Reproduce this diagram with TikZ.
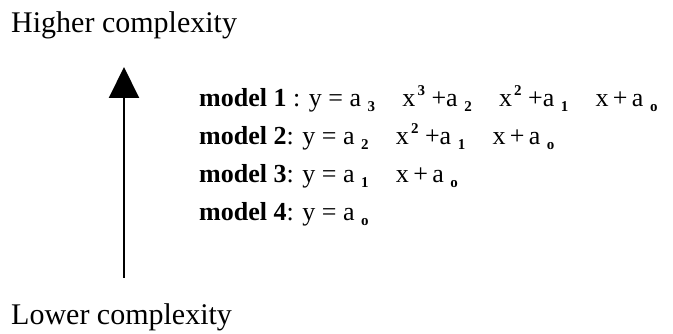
\documentclass[tikz,border=0pt]{standalone}
\usepackage{fontspec}
\setmainfont{Liberation Serif}
\usepackage{tikz}
\usetikzlibrary{arrows.meta, positioning}
\newcommand{\lo}[1]{\hspace{0.25em}\raisebox{-0.4ex}{\fontsize{15}{15}\selectfont\bfseries #1}}
\newcommand{\hi}[1]{\hspace{0.08em}\raisebox{1.0ex}{\fontsize{15}{15}\selectfont\bfseries #1}}
\newcommand{\gap}{\hspace{1.05em}}
\tikzset{
  every picture/.style={>=Stealth},
  extremo/.style={anchor=base west, inner sep=0pt, font=\fontsize{30}{34}\selectfont},
  modelo/.style={anchor=base west, inner sep=0pt, font=\fontsize{26}{30}\selectfont},
  flecha/.style={-{Triangle[length=31pt, width=30pt]}, line width=2pt, black},
}
\begin{document}
\begin{tikzpicture}[x=1pt, y=1pt]
  \useasboundingbox (0,0) rectangle (673,334);
  \node[extremo] (alta) at (11,301) {Higher complexity};
  \node[extremo] (baja) at (11,9) {Lower complexity};
  \node[modelo] (m1) at (199,227) {\textbf{model 1} : y = a\lo{3}\gap x\hi{3} +a\lo{2}\gap x\hi{2} +a\lo{1}\gap x\,+\,a\lo{o}};
  \node[modelo] (m2) at (199,189) {\textbf{model 2}: y = a\lo{2}\gap x\hi{2} +a\lo{1}\gap x\,+\,a\lo{o}};
  \node[modelo] (m3) at (199,151) {\textbf{model 3}: y = a\lo{1}\gap x\,+\,a\lo{o}};
  \node[modelo] (m4) at (199,113) {\textbf{model 4}: y = a\lo{o}};
  \coordinate (pie) at (124,56);
  \coordinate (punta) at (124,267);
  \draw[flecha] (pie) -- (punta);
\end{tikzpicture}
\end{document}
